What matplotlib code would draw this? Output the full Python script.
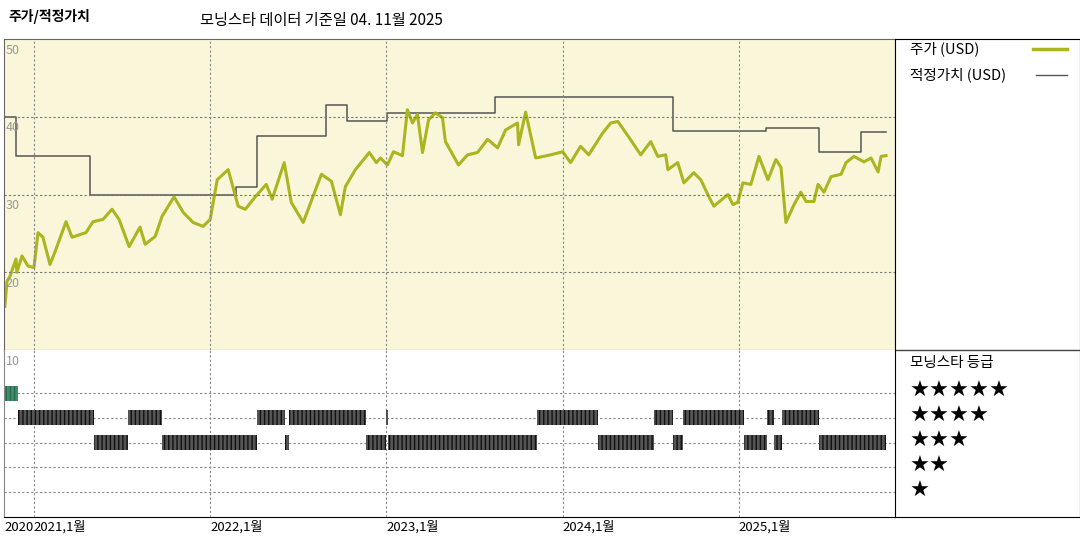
import matplotlib
matplotlib.use("Agg")
import matplotlib.pyplot as plt

plt.rcParams['font.family'] = ['Noto Sans CJK KR', 'DejaVu Sans']

# price (decimal year, USD)
price_t = [2020.835, 2020.847, 2020.864, 2020.898, 2020.903, 2020.932, 2020.966, 2021.000, 2021.023, 2021.051,
           2021.091, 2021.119, 2021.182, 2021.216, 2021.295, 2021.335, 2021.392, 2021.443, 2021.483, 2021.540,
           2021.602, 2021.631, 2021.688, 2021.727, 2021.795, 2021.847, 2021.903, 2021.960, 2022.000, 2022.040,
           2022.102, 2022.159, 2022.199, 2022.256, 2022.318, 2022.352, 2022.420, 2022.460, 2022.528, 2022.631,
           2022.688, 2022.739, 2022.767, 2022.824, 2022.903, 2022.943, 2022.966, 2023.006, 2023.040, 2023.091,
           2023.119, 2023.148, 2023.176, 2023.205, 2023.239, 2023.278, 2023.318, 2023.335, 2023.409, 2023.460,
           2023.517, 2023.574, 2023.631, 2023.676, 2023.744, 2023.750, 2023.790, 2023.847, 2023.932, 2024.000,
           2024.045, 2024.102, 2024.148, 2024.227, 2024.273, 2024.313, 2024.375, 2024.443, 2024.500, 2024.540,
           2024.585, 2024.597, 2024.653, 2024.688, 2024.744, 2024.784, 2024.830, 2024.858, 2024.938, 2024.966,
           2024.994, 2025.023, 2025.068, 2025.114, 2025.165, 2025.210, 2025.239, 2025.267, 2025.313, 2025.352,
           2025.381, 2025.426, 2025.449, 2025.483, 2025.523, 2025.580, 2025.608, 2025.653, 2025.710, 2025.750,
           2025.790, 2025.807, 2025.835]
price_v = [15.6, 18.8, 19.5, 21.7, 20.0, 22.1, 20.8, 20.6, 25.1, 24.5,
           21.0, 22.6, 26.5, 24.5, 25.1, 26.5, 26.8, 28.1, 26.8, 23.3,
           25.8, 23.6, 24.6, 27.2, 29.7, 27.7, 26.4, 25.9, 26.8, 31.9,
           33.2, 28.5, 28.1, 29.7, 31.3, 29.4, 34.1, 29.0, 26.4, 32.6,
           31.7, 27.4, 31.0, 33.2, 35.4, 34.1, 34.7, 33.8, 35.5, 35.0,
           40.9, 39.2, 40.3, 35.4, 39.6, 40.5, 39.9, 36.8, 33.8, 35.1,
           35.4, 37.1, 36.0, 38.3, 39.2, 36.4, 40.6, 34.7, 35.1, 35.5,
           34.1, 36.2, 35.1, 37.9, 39.2, 39.4, 37.4, 35.1, 36.8, 34.9,
           35.1, 33.2, 34.1, 31.5, 32.8, 31.9, 29.7, 28.5, 30.0, 28.7,
           29.0, 31.5, 31.3, 34.9, 31.9, 34.5, 33.5, 26.4, 28.7, 30.3,
           29.1, 29.1, 31.3, 30.3, 32.3, 32.6, 34.1, 34.9, 34.2, 34.7,
           32.9, 34.9, 35.0]

# fair value steps
fair_t = [2020.83, 2020.898, 2021.318, 2022.148, 2022.267, 2022.659, 2022.778, 2023.006,
          2023.619, 2024.625, 2025.153, 2025.455, 2025.693, 2025.835]
fair_v = [40, 35, 30, 31, 37.5, 41.5, 39.5, 40.5, 42.6, 38.2, 38.6, 35.5, 38.1, 38.1]

# star rating periods
rating_start = [2020.83, 2020.91, 2021.34, 2021.534, 2021.727, 2022.267, 2022.426, 2022.449, 2022.886, 2023.0,
                2023.011, 2023.852, 2024.199, 2024.517, 2024.625, 2024.682, 2025.028, 2025.159, 2025.199, 2025.244,
                2025.455]
rating_end = rating_start[1:] + [2025.835]
rating_stars = [5, 4, 3, 4, 3, 4, 3, 4, 3, 4, 3, 4, 3, 4, 3, 4, 3, 4, 3, 4, 3]

years = [2021, 2022, 2023, 2024, 2025]
year_labels = ['2021,1월', '2022,1월', '2023,1월', '2024,1월', '2025,1월']

x0, x1 = 2020.83, 2025.886

fig = plt.figure(figsize=(10.8, 5.4), dpi=100)
ax = fig.add_axes([4/1080, 1-350/540, 891/1080, 311/540])
ax2 = fig.add_axes([4/1080, 1-517/540, 891/1080, 167/540])
side = fig.add_axes([895/1080, 1-517/540, 185/1080, 478/540])

ax.set_facecolor('#faf6d9')
ax.plot(fair_t, fair_v, drawstyle='steps-post', color='#555555', lw=1.1)
ax.plot(price_t, price_v, color='#aab520', lw=2.2)
ax.set_xlim(x0, x1)
ax.set_ylim(10, 50)
ax.set_xticks([]); ax.set_yticks([])
for y in [20, 30, 40]:
    ax.axhline(y, color='#777777', ls=(0, (2, 2)), lw=0.8)
for yr in years:
    ax.axvline(yr, color='#888888', ls=(0, (2, 2)), lw=0.8)
for y in [20, 30, 40, 50]:
    ax.text(x0 + 0.01, y - 0.6, str(y), color='#999999', fontsize=9, va='top')
for s in ax.spines.values():
    s.set_color('#666666')

# ratings
ax2.set_xlim(x0, x1)
ax2.set_ylim(0, 6.74)
ax2.set_xticks([]); ax2.set_yticks([])
for y in [1, 2, 3, 4, 5]:
    ax2.axhline(y, color='#888888', ls=(0, (2, 2)), lw=0.8, zorder=0)
for yr in years:
    ax2.axvline(yr, color='#888888', ls=(0, (2, 2)), lw=0.8, zorder=0)
for a, b, st in zip(rating_start, rating_end, rating_stars):
    fc = '#3f8f6a' if st == 5 else '#555555'
    ec = '#2a6a4c' if st == 5 else '#111111'
    ax2.broken_barh([(a, b - a)], (st - 0.3, 0.6), facecolor=fc, edgecolor=ec,
                    hatch='||||', lw=0.0, zorder=2)
ax2.text(x0 + 0.01, 6.55, '10', color='#999999', fontsize=9, va='top')
for s in ['top', 'right']:
    ax2.spines[s].set_visible(False)
ax2.spines['left'].set_color('#888888')
ax2.text(x0, -0.15, '2020', fontsize=9.5, va='top', ha='left')
for yr, lab in zip(years, year_labels):
    ax2.text(yr, -0.15, lab, fontsize=9.5, va='top', ha='left')

# side legend panel
side.set_xlim(0, 185); side.set_ylim(517, 39)
side.set_xticks([]); side.set_yticks([])
side.axhline(350, color='#444444', lw=1)
side.text(15, 49, '주가 (USD)', fontsize=10.5, va='center')
side.plot([138, 172], [49, 49], color='#aab520', lw=2.5)
side.text(15, 75, '적정가치 (USD)', fontsize=10.5, va='center')
side.plot([141, 172], [75, 75], color='#555555', lw=1)
side.text(15, 363, '모닝스타 등급', fontsize=10.5, va='center')
for i, n in enumerate([5, 4, 3, 2, 1]):
    side.text(15, 391 + i * 25, '★' * n, fontsize=16, va='center', family=['DejaVu Sans'])

fig.text(8/1080, 1-16/540, '주가/적정가치', fontsize=10, fontweight='bold', va='center')
fig.text(200/1080, 1-20/540, '모닝스타 데이터 기준일 04. 11월 2025', fontsize=11, va='center')

fig.savefig('out.png')
